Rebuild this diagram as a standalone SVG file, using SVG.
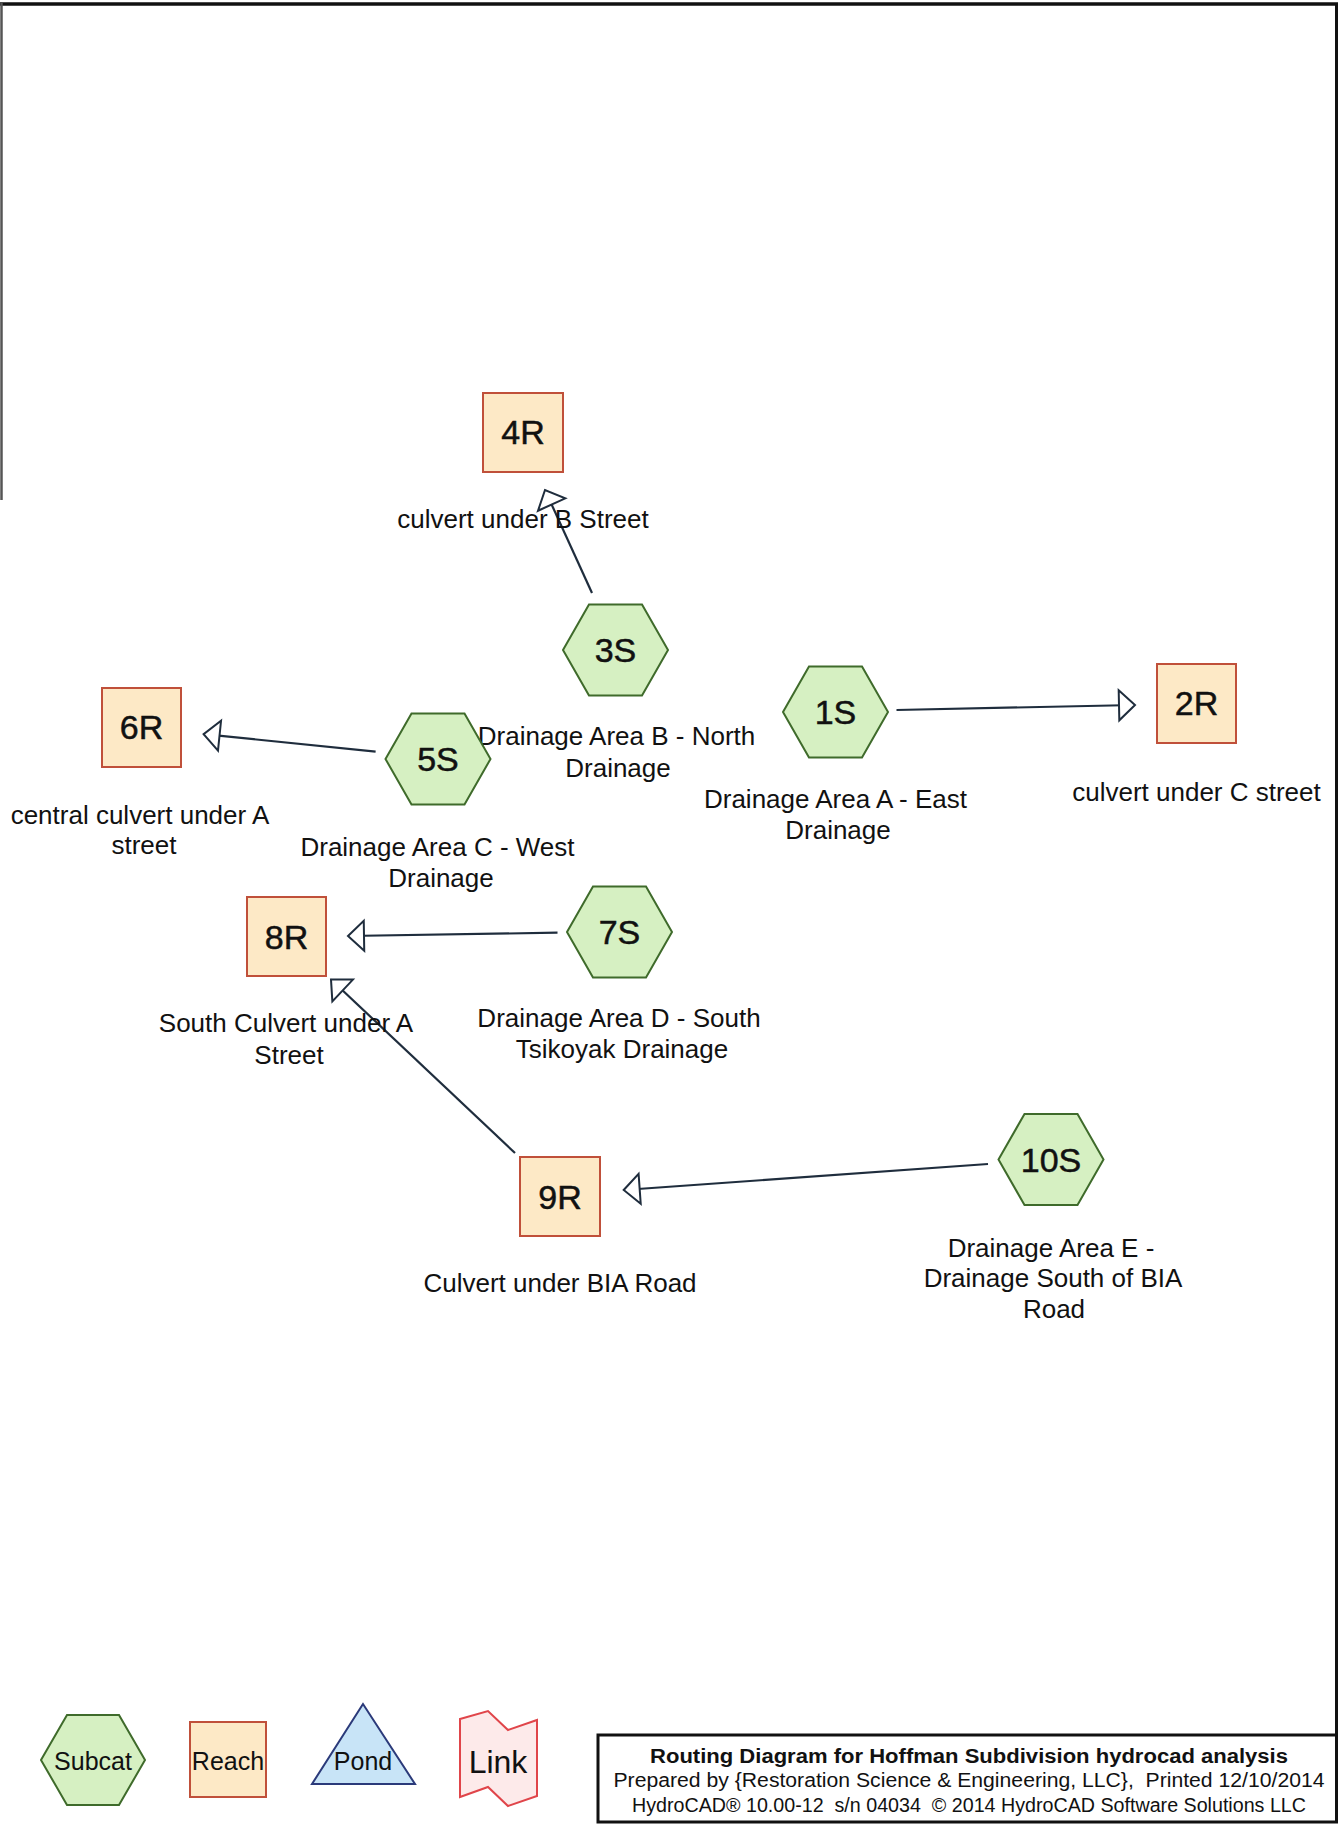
<svg xmlns="http://www.w3.org/2000/svg" width="1339" height="1824" viewBox="0 0 1339 1824">
<style>
text { font-family: "Liberation Sans", Arial, sans-serif; fill: #111; }
.lbl { font-size: 26px; text-anchor: middle; }
.id { font-size: 34px; text-anchor: middle; stroke: #111; stroke-width: 0.5; }
.leg { font-size: 25px; text-anchor: middle; }
.hex { fill: #d6f0c2; stroke: #3f6b2b; stroke-width: 2; }
.reach { fill: #fde9c6; stroke: #c0503a; stroke-width: 2; }
.conn { fill: none; stroke: #1f2d3d; stroke-width: 2.2; marker-end: url(#arr); }
.title { font-size: 20px; text-anchor: middle; white-space: pre; }
</style>
<defs>
<polygon id="hexshape" points="-52.5,0 -26.5,-45.5 26.5,-45.5 52.5,0 26.5,45.5 -26.5,45.5"/>
<marker id="arr" markerUnits="userSpaceOnUse" markerWidth="22" markerHeight="36" viewBox="-3 -18 22 36" refX="16" refY="0" orient="auto" overflow="visible">
<path d="M0,-15 L16,0 L0,15 Z" fill="#fff" stroke="#1f2d3d" stroke-width="2" stroke-linejoin="miter"/>
</marker>
</defs>
<rect x="0" y="0" width="1339" height="1824" fill="#fff"/>

<g id="frame" fill="none">
<line x1="0" y1="4" x2="1338" y2="4" stroke="#111" stroke-width="3.5"/>
<line x1="1336.5" y1="3" x2="1336.5" y2="1823" stroke="#111" stroke-width="3"/>
<line x1="1.5" y1="3" x2="1.5" y2="500" stroke="#555" stroke-width="2.5"/>
</g>

<g id="connectors">
<path class="conn" d="M592,593 L545,490"/>
<path class="conn" d="M896.5,710 L1135,705"/>
<path class="conn" d="M375.6,751.7 L203.6,734.1"/>
<path class="conn" d="M557.5,932.7 L348,936"/>
<path class="conn" d="M515,1153 L331,979.5"/>
<path class="conn" d="M988,1164 L623.7,1190"/>
</g>

<g id="node-4R">
<rect class="reach" x="483" y="393" width="80" height="79"/>
<text class="id" x="523" y="444">4R</text>
<text class="lbl" x="523" y="528">culvert under B Street</text>
</g>

<g id="node-3S">
<use href="#hexshape" class="hex" x="615.5" y="650"/>
<text class="id" x="615.5" y="662">3S</text>
<text class="lbl" x="616.5" y="745">Drainage Area B - North</text>
<text class="lbl" x="618" y="777">Drainage</text>
</g>

<g id="node-1S">
<use href="#hexshape" class="hex" x="835.5" y="712"/>
<text class="id" x="835.5" y="724">1S</text>
<text class="lbl" x="835.5" y="808">Drainage Area A - East</text>
<text class="lbl" x="838" y="839">Drainage</text>
</g>

<g id="node-2R">
<rect class="reach" x="1157" y="664" width="79" height="79"/>
<text class="id" x="1196.5" y="715">2R</text>
<text class="lbl" x="1196.5" y="801">culvert under C street</text>
</g>

<g id="node-6R">
<rect class="reach" x="102" y="688" width="79" height="79"/>
<text class="id" x="141.5" y="739">6R</text>
<text class="lbl" x="140" y="824">central culvert under A</text>
<text class="lbl" x="144" y="854">street</text>
</g>

<g id="node-5S">
<use href="#hexshape" class="hex" x="438" y="759"/>
<text class="id" x="438" y="771">5S</text>
<text class="lbl" x="437.5" y="856">Drainage Area C - West</text>
<text class="lbl" x="441" y="887">Drainage</text>
</g>

<g id="node-8R">
<rect class="reach" x="247" y="897" width="79" height="79"/>
<text class="id" x="286.5" y="948.5">8R</text>
<text class="lbl" x="286" y="1032">South Culvert under A</text>
<text class="lbl" x="289" y="1064">Street</text>
</g>

<g id="node-7S">
<use href="#hexshape" class="hex" x="619.5" y="932"/>
<text class="id" x="619.5" y="944">7S</text>
<text class="lbl" x="619" y="1027">Drainage Area D - South</text>
<text class="lbl" x="622" y="1058">Tsikoyak Drainage</text>
</g>

<g id="node-9R">
<rect class="reach" x="520" y="1157" width="80" height="79"/>
<text class="id" x="560" y="1208.5">9R</text>
<text class="lbl" x="560" y="1292">Culvert under BIA Road</text>
</g>

<g id="node-10S">
<use href="#hexshape" class="hex" x="1051" y="1159.5"/>
<text class="id" x="1051" y="1171.5">10S</text>
<text class="lbl" x="1051" y="1257">Drainage Area E -</text>
<text class="lbl" x="1053" y="1287">Drainage South of BIA</text>
<text class="lbl" x="1054" y="1318">Road</text>
</g>

<g id="legend">
<g id="legend-subcat">
<polygon class="hex" points="41,1760 67,1715 119,1715 145,1760 119,1805 67,1805"/>
<text class="leg" x="93" y="1770">Subcat</text>
</g>
<g id="legend-reach">
<rect class="reach" x="190" y="1722" width="76" height="75"/>
<text class="leg" x="228" y="1770">Reach</text>
</g>
<g id="legend-pond">
<polygon points="363,1704 312,1784 415,1784" fill="#c8e4f7" stroke="#2b3a7a" stroke-width="2"/>
<text class="leg" x="363" y="1770">Pond</text>
</g>
<g id="legend-link">
<polygon points="460,1719 488,1711 508,1730 537,1720 537,1796 508,1806 488,1787 460,1797" fill="#fdeaea" stroke="#e0454a" stroke-width="2"/>
<text x="498" y="1773" font-size="32" text-anchor="middle">Link</text>
</g>
</g>

<g id="title-block">
<rect x="598" y="1735" width="738.5" height="87" fill="#fff" stroke="#111" stroke-width="3"/>
<text class="title" x="969" y="1763" font-weight="bold" textLength="638" lengthAdjust="spacingAndGlyphs">Routing Diagram for Hoffman Subdivision hydrocad analysis</text>
<text class="title" x="969" y="1787" textLength="711" lengthAdjust="spacingAndGlyphs">Prepared by {Restoration Science &amp; Engineering, LLC},  Printed 12/10/2014</text>
<text class="title" x="969" y="1812" textLength="674" lengthAdjust="spacingAndGlyphs">HydroCAD® 10.00-12  s/n 04034  © 2014 HydroCAD Software Solutions LLC</text>
</g>
</svg>
